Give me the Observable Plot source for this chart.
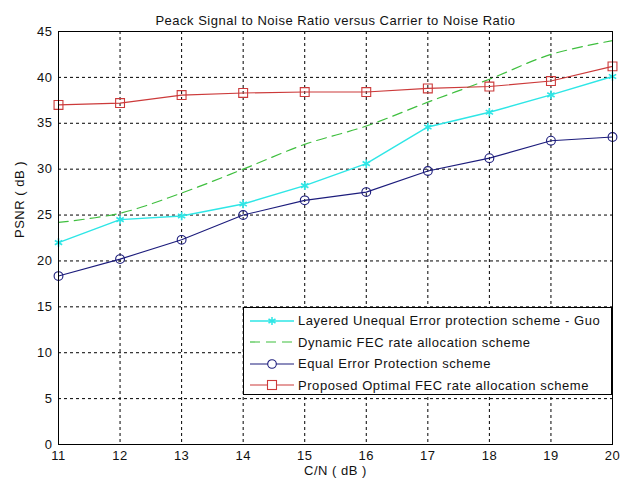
<!DOCTYPE html>
<html><head><meta charset="utf-8">
<script src="https://cdn.jsdelivr.net/npm/d3@7"></script>
<script src="https://cdn.jsdelivr.net/npm/@observablehq/plot@0.6"></script>
<style>
body{margin:0;background:#fff;font-family:"Liberation Sans",Arial,sans-serif}
#wrap{position:relative;width:631px;height:483px}
#wrap svg text{letter-spacing:0.5px}
#legend{position:absolute;left:243px;top:307px;width:369px;height:88px;border:1px solid #000;background:#fff;box-sizing:border-box;padding-top:2px}
.row{display:flex;align-items:center;height:21.5px;font-size:13px;letter-spacing:0.55px;color:#111;white-space:nowrap}
.row svg{margin-left:6px;margin-right:4px;letter-spacing:0}
</style></head><body><div id="wrap"></div>
<script>
const cn = [11, 12, 13, 14, 15, 16, 17, 18, 19, 20];
const layered = [22.0, 24.5, 24.9, 26.2, 28.2, 30.6, 34.6, 36.2, 38.1, 40.1];
const dynamicFec = [24.2, 25.2, 27.4, 30.0, 32.7, 34.7, 37.3, 39.8, 42.5, 44.0];
const equalEp = [18.35, 20.2, 22.3, 25.0, 26.6, 27.5, 29.8, 31.2, 33.1, 33.5];
const proposed = [37.0, 37.2, 38.07, 38.3, 38.4, 38.4, 38.8, 39.0, 39.6, 41.2];
const seriesNames = [
  "Layered Unequal Error protection scheme - Guo",
  "Dynamic FEC rate allocation scheme",
  "Equal Error Protection scheme",
  "Proposed Optimal FEC rate allocation scheme"
];
const xTicks = [11, 12, 13, 14, 15, 16, 17, 18, 19, 20];
const yTicks = [0, 5, 10, 15, 20, 25, 30, 35, 40, 45];
const titleText = "Peack Signal to Noise Ratio versus Carrier to Noise Ratio";
const xLabel = "C/N ( dB )";
const yLabel = "PSNR ( dB )";

const colors = ["#2ee6e6", "#3fbf3f", "#1c1c7c", "#cc3a3a"];
const pts = (ys) => cn.map((x, i) => ({x, y: ys[i]}));
const dL = pts(layered), dD = pts(dynamicFec), dE = pts(equalEp), dP = pts(proposed);

const fontFam = '"Liberation Sans",Arial,sans-serif';
const chart = Plot.plot({
  width: 631, height: 483,
  marginLeft: 58, marginRight: 19, marginTop: 31, marginBottom: 39,
  style: {fontFamily: fontFam, fontSize: "13px", background: "#fff", color: "#111"},
  x: {domain: [11, 20]},
  y: {domain: [0, 45]},
  marks: [
    Plot.ruleX(xTicks.slice(1, -1), {stroke: "#000", strokeDasharray: "3,3", strokeWidth: 1}),
    Plot.ruleY(yTicks.slice(1, -1), {stroke: "#000", strokeDasharray: "3,3", strokeWidth: 1}),
    Plot.axisX({ticks: xTicks, tickSize: 0, tickPadding: 6, fontSize: 13, label: null}),
    Plot.axisY({ticks: yTicks, tickSize: 0, tickPadding: 6, fontSize: 13, label: null}),
    Plot.line(dD, {x: "x", y: "y", stroke: colors[1], strokeWidth: 1.2, strokeDasharray: "10,6", curve: "catmull-rom"}),
    Plot.line(dL, {x: "x", y: "y", stroke: colors[0], strokeWidth: 1.4}),
    Plot.dot(dL, {x: "x", y: "y", stroke: colors[0], symbol: "asterisk", r: 4, strokeWidth: 1.6}),
    Plot.line(dE, {x: "x", y: "y", stroke: colors[2], strokeWidth: 1.1}),
    Plot.dot(dE, {x: "x", y: "y", stroke: colors[2], symbol: "circle", r: 4.4, strokeWidth: 1.1, fill: "none"}),
    Plot.line(dP, {x: "x", y: "y", stroke: colors[3], strokeWidth: 1.1}),
    Plot.dot(dP, {x: "x", y: "y", stroke: colors[3], symbol: "square", r: 5, strokeWidth: 1.1, fill: "none"}),
    Plot.frame({stroke: "#000", strokeWidth: 1}),
    Plot.text([titleText], {frameAnchor: "top", dy: -16, fontSize: 13, text: d => d}),
    Plot.text([xLabel], {frameAnchor: "bottom", dy: 30, fontSize: 13, text: d => d}),
    Plot.text([yLabel], {frameAnchor: "left", dx: -39, rotate: -90, fontSize: 13, text: d => d})
  ]
});
const wrap = document.getElementById("wrap");
wrap.appendChild(chart);

// legend
const legend = document.createElement("div");
legend.id = "legend";
const sym = [
  '<line x1="0" y1="6" x2="44" y2="6" stroke="C" stroke-width="1.4"/><path d="M22,2V10M18.5,4L25.5,8M18.5,8L25.5,4" stroke="C" stroke-width="1.5"/>',
  '<line x1="0" y1="6" x2="44" y2="6" stroke="C" stroke-width="1.2" stroke-dasharray="10,6"/>',
  '<line x1="0" y1="6" x2="44" y2="6" stroke="C" stroke-width="1.1"/><circle cx="22" cy="6" r="4.3" fill="#fff" stroke="C" stroke-width="1.1"/>',
  '<line x1="0" y1="6" x2="44" y2="6" stroke="C" stroke-width="1.1"/><rect x="17.5" y="1.5" width="9" height="9" fill="#fff" stroke="C" stroke-width="1.1"/>'
];
seriesNames.forEach((name, i) => {
  const row = document.createElement("div");
  row.className = "row";
  row.innerHTML = '<svg width="44" height="12">' + sym[i].replace(/="C"/g, '="' + colors[i] + '"') + '</svg><span></span>';
  row.querySelector("span").textContent = name;
  legend.appendChild(row);
});
wrap.appendChild(legend);
</script>
</body></html>
